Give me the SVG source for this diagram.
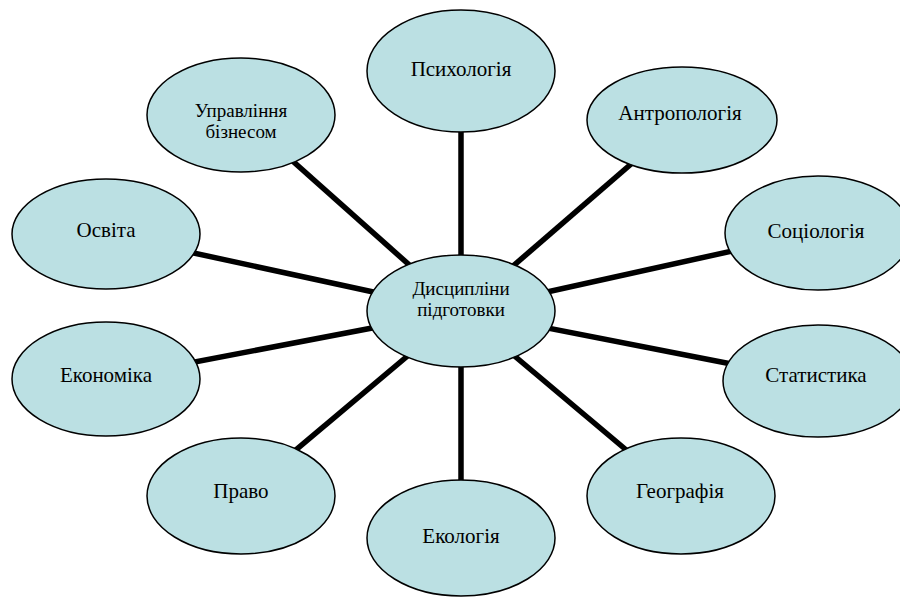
<svg xmlns="http://www.w3.org/2000/svg" width="900" height="597" viewBox="0 0 900 597">
<style>
.n{fill:#BBE0E3;stroke:#000;stroke-width:1.5}
.c{stroke:#000;stroke-width:5.5;fill:none}
text{font-family:"Liberation Serif","DejaVu Serif",serif;fill:#000;text-anchor:middle}
.b{font-size:21px}
.s{font-size:19px}
</style>
<rect width="900" height="597" fill="#fff"/>
<g id="connectors">
<line class="c" x1="461" y1="311" x2="461" y2="71"/>
<line class="c" x1="461" y1="311" x2="682" y2="120"/>
<line class="c" x1="461" y1="311" x2="818" y2="232"/>
<line class="c" x1="461" y1="311" x2="818" y2="381"/>
<line class="c" x1="461" y1="311" x2="681" y2="496"/>
<line class="c" x1="461" y1="311" x2="461" y2="538"/>
<line class="c" x1="461" y1="311" x2="241" y2="496"/>
<line class="c" x1="461" y1="311" x2="106" y2="379"/>
<line class="c" x1="461" y1="311" x2="106" y2="234"/>
<line class="c" x1="461" y1="311" x2="241" y2="115"/>
</g>
<g id="center"><ellipse class="n" cx="461" cy="311" rx="94" ry="56"/><text class="s" x="461" y="295">Дисципліни</text><text class="s" x="461" y="316">підготовки</text></g>
<g id="psychology"><ellipse class="n" cx="461" cy="71" rx="94" ry="61"/><text class="b" x="461" y="76">Психологія</text></g>
<g id="anthropology"><ellipse class="n" cx="682" cy="120" rx="95" ry="53"/><text class="b" x="680" y="120">Антропологія</text></g>
<g id="sociology"><ellipse class="n" cx="818" cy="233" rx="93" ry="57"/><text class="b" x="816" y="238">Соціологія</text></g>
<g id="statistics"><ellipse class="n" cx="818" cy="381" rx="95" ry="56"/><text class="b" x="816" y="382">Статистика</text></g>
<g id="geography"><ellipse class="n" cx="681" cy="496" rx="94" ry="58"/><text class="b" x="680" y="498">Географія</text></g>
<g id="ecology"><ellipse class="n" cx="461" cy="538" rx="94" ry="58"/><text class="b" x="461" y="543">Екологія</text></g>
<g id="law"><ellipse class="n" cx="241" cy="496" rx="94" ry="58"/><text class="b" x="241" y="498">Право</text></g>
<g id="economics"><ellipse class="n" cx="106" cy="379" rx="94" ry="57"/><text class="b" x="106" y="382">Економіка</text></g>
<g id="education"><ellipse class="n" cx="106" cy="234" rx="94" ry="55"/><text class="b" x="106" y="237">Освіта</text></g>
<g id="business"><ellipse class="n" cx="241" cy="115" rx="94" ry="57"/><text class="s" x="241" y="117">Управління</text><text class="s" x="241" y="138">бізнесом</text></g>
</svg>
